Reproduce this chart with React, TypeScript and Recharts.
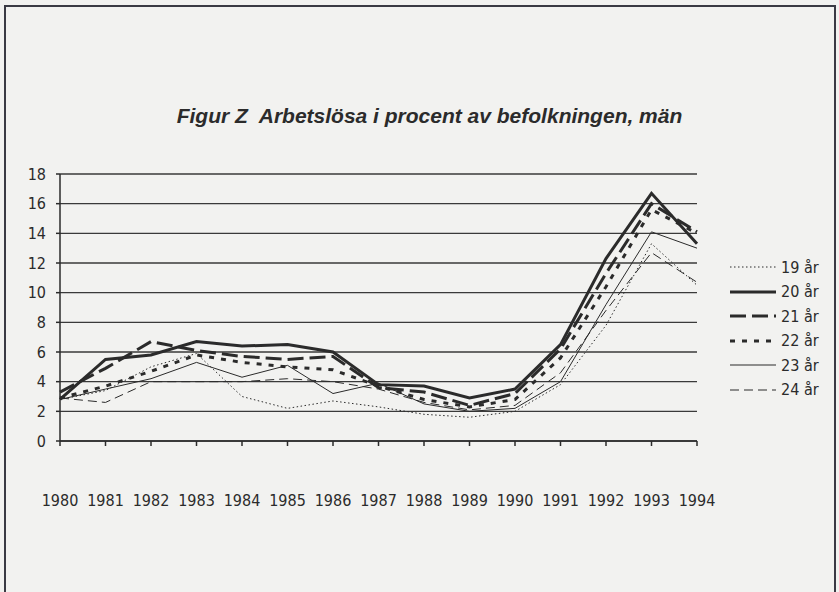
import { LineChart, Line, XAxis, YAxis, CartesianGrid, Legend } from "recharts";

const years = ["1980", "1981", "1982", "1983", "1984", "1985", "1986", "1987", "1988", "1989", "1990", "1991", "1992", "1993", "1994"];

const ar19 = [2.8, 3.4, 5.0, 5.9, 3.0, 2.2, 2.7, 2.3, 1.8, 1.6, 2.0, 3.8, 7.8, 13.3, 10.5];
const ar20 = [2.8, 5.5, 5.8, 6.7, 6.4, 6.5, 6.0, 3.8, 3.7, 2.9, 3.5, 6.5, 12.3, 16.7, 13.3];
const ar21 = [3.3, 4.9, 6.7, 6.1, 5.7, 5.5, 5.7, 3.6, 3.3, 2.4, 3.2, 6.2, 11.3, 16.0, 14.1];
const ar22 = [2.9, 3.7, 4.7, 5.8, 5.3, 5.0, 4.8, 3.7, 2.8, 2.3, 2.8, 5.6, 10.4, 15.6, 14.0];
const ar23 = [2.8, 3.5, 4.2, 5.3, 4.3, 5.1, 3.2, 3.9, 2.5, 2.0, 2.2, 4.0, 9.2, 14.1, 13.0];
const ar24 = [2.9, 2.6, 4.0, 4.0, 4.0, 4.2, 4.0, 3.5, 2.6, 2.1, 2.4, 4.6, 8.8, 12.7, 10.7];

const yTicks = [0, 2, 4, 6, 8, 10, 12, 14, 16, 18];

const seriesNames = ["19 år", "20 år", "21 år", "22 år", "23 år", "24 år"];
const seriesValues = [ar19, ar20, ar21, ar22, ar23, ar24];

const ink = "#2b2b2b";
const styles = [
  { width: 1, dash: "1.5 2.5" },
  { width: 3, dash: undefined },
  { width: 3, dash: "16 6" },
  { width: 3, dash: "5 7" },
  { width: 1, dash: undefined },
  { width: 1, dash: "9 5" },
];

const data = years.map((y, i) => {
  const row: Record<string, string | number> = { year: y };
  seriesNames.forEach((n, s) => {
    row[n] = seriesValues[s][i];
  });
  return row;
});

const font = "'Liberation Sans', Arial, sans-serif";
const tickFont = "'DejaVu Sans Condensed', 'Liberation Sans', Arial, sans-serif";

const renderLegend = () => (
  <div style={{ fontFamily: tickFont, fontSize: 16, color: ink }}>
    {seriesNames.map((n, i) => (
      <div key={n} style={{ display: "flex", alignItems: "center", height: 24.5 }}>
        <svg width={50} height={10}>
          <line
            x1={2}
            y1={5}
            x2={48}
            y2={5}
            stroke={ink}
            strokeWidth={styles[i].width}
            strokeDasharray={styles[i].dash}
          />
        </svg>
        <span style={{ marginLeft: 3 }}>{n}</span>
      </div>
    ))}
  </div>
);

export default function App() {
  return (
    <div style={{ position: "absolute", left: 0, top: 0, width: 839, height: 592, background: "#f2f2f0", overflow: "hidden" }}>
      <div
        style={{
          position: "absolute",
          left: 4,
          top: 5,
          width: 828,
          height: 620,
          border: "2px solid #3a3a44",
        }}
      />
      <div
        style={{
          position: "absolute",
          left: 0,
          width: 839,
          top: 104,
          textAlign: "center",
          fontFamily: font,
          fontWeight: "bold",
          fontStyle: "italic",
          fontSize: 21,
          color: ink,
          paddingLeft: 10,
        }}
      >
        Figur Z&nbsp; Arbetslösa i procent av befolkningen, män
      </div>
      <LineChart
        width={839}
        height={592}
        data={data}
        margin={{ top: 174, right: 142, bottom: 81, left: 10 }}
        style={{ position: "absolute", left: 0, top: 0 }}
      >
        <CartesianGrid vertical={false} stroke="#3a3a3a" strokeWidth={1.3} />
        <XAxis
          dataKey="year"
          interval={0}
          height={70}
          tickSize={5}
          tickMargin={49}
          axisLine={{ stroke: ink, strokeWidth: 1.5 }}
          tickLine={{ stroke: ink, strokeWidth: 1.5 }}
          tick={{ fill: ink, fontSize: 16, fontFamily: tickFont }}
        />
        <YAxis
          width={50}
          domain={[0, 18]}
          ticks={yTicks}
          interval={0}
          tickSize={4}
          tickMargin={10}
          axisLine={{ stroke: ink, strokeWidth: 1.5 }}
          tickLine={{ stroke: ink, strokeWidth: 1.5 }}
          tick={{ fill: ink, fontSize: 16, fontFamily: tickFont }}
        />
        <Legend
          layout="horizontal"
          verticalAlign="middle"
          align="center"
          content={renderLegend}
          wrapperStyle={{ left: 728, top: 255, width: 110 }}
        />
        {seriesNames.map((n, i) => (
          <Line
            key={n}
            dataKey={n}
            stroke={ink}
            strokeWidth={styles[i].width}
            strokeDasharray={styles[i].dash}
            dot={false}
            activeDot={false}
            isAnimationActive={false}
          />
        ))}
      </LineChart>
    </div>
  );
}
